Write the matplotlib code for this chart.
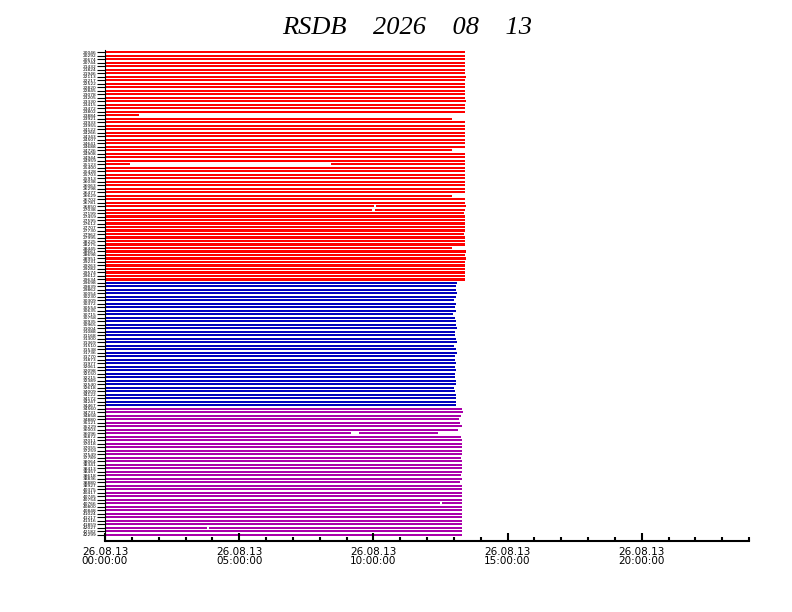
import matplotlib
matplotlib.use("Agg")
import matplotlib.pyplot as plt
import numpy as np

# data: end of reception per station (hours since 00:00 UTC)
title = "RSDB    2026    08    13"

red_end = ([13.41] * 7 + [13.45] + [13.41] * 6 + [13.45] + [13.41] * 3 + [1.27, 12.92]
           + [13.41] * 8 + [12.92] + [13.41] * 3 + [13.41] + [13.41] * 8 + [12.92]
           + [13.41] * 2 + [13.45, 13.41, 13.37] + [13.41] * 5 + [13.37] + [13.41] * 3
           + [12.92, 13.45, 13.41, 13.45] + [13.41] * 6)
red_gaps = [(32, 0.93, 8.42), (44, 10.02, 10.09), (45, 9.94, 10.06)]

blue_end = [13.11, 13.07, 13.07, 13.11, 13.07, 13.00, 13.07, 13.04, 13.07, 12.96,
            13.04, 13.07, 13.07, 13.11, 13.04, 13.04, 13.07, 13.11, 13.00, 13.07,
            13.11, 13.04, 13.04, 13.07, 13.04, 13.07, 13.04, 13.04, 13.07, 13.07,
            13.00, 13.04, 13.07, 13.07, 13.07, 13.07]
blue_gaps = []

mag_end = [13.30, 13.33, 13.26, 13.18, 13.22, 13.30, 13.15, 12.40, 13.26, 13.30,
           13.30, 13.30, 13.30, 13.30, 13.26, 13.30, 13.30, 13.30, 13.30, 13.26,
           13.30, 13.22, 13.30, 13.30, 13.30, 13.30, 13.30, 13.30, 13.30, 13.30,
           13.30, 13.30, 13.30, 13.30, 13.30, 13.30, 13.30]
mag_gaps = [(7, 9.16, 9.46), (27, 12.48, 12.55), (34, 3.80, 3.87)]

# station labels (too small to read in the original)
stations = ["20046", "20292", "20674", "20744", "21432", "21824", "21946", "22113",
            "22217", "22522", "22820", "22845", "23078", "23205", "23330", "23415",
            "23472", "23802", "23884", "23921", "23933", "23955", "24122", "24266",
            "24343", "24507", "24641", "24688", "24726", "24908", "24944", "24959",
            "25123", "25400", "25428", "25703", "25913", "26038", "26063", "26298",
            "26477", "26629", "26702", "26781", "26850", "27038", "27199", "27459",
            "27595", "27612", "27707", "27730", "27962", "27995", "28225", "28275",
            "28445", "28661", "28698", "28951", "29231", "29263", "29282", "29574",
            "29612", "29634", "29698", "29839", "29862", "30054", "30230", "30309",
            "30372", "30554", "30635", "30715", "30758", "30935", "30965", "31004",
            "31088", "31168", "31300", "31369", "31510", "31538", "31736", "31770",
            "31873", "31977", "32061", "32098", "32150", "32215", "32389", "32540",
            "32618", "34009", "34122", "34172", "34247", "34467", "34560", "34731",
            "34858", "34880", "35121", "35229", "36003", "36096", "36872", "37011",
            "37018", "37055", "37259", "37549", "37789", "38064", "38341", "38413",
            "38457", "38618", "38836", "38880", "38927", "40375", "40417", "40745",
            "40754", "40766", "40800", "40848", "41024", "41217", "41316", "41859",
            "42027", "42182", "42299"]

xtick_hours = [0, 5, 10, 15, 20]
xtick_labels = ["26.08.13\n00:00:00", "26.08.13\n05:00:00", "26.08.13\n10:00:00",
                "26.08.13\n15:00:00", "26.08.13\n20:00:00"]

groups = [(red_end, red_gaps, "#ff0000"),
          (blue_end, blue_gaps, "#0000be"),
          (mag_end, mag_gaps, "#aa00aa")]

fig = plt.figure(figsize=(7.92, 6.12), dpi=100)
ax = fig.add_axes([105 / 792, 71 / 612, 644 / 792, 491 / 612])

row = 0
for ends, gaps, col in groups:
    for i, end in enumerate(ends):
        segs = [(0.0, end)]
        for g in gaps:
            if g[0] == i:
                segs = [(0.0, g[1]), (g[2], end)]
        for s, e in segs:
            ax.barh(row, e - s, left=s, height=0.6, color=col, linewidth=0)
        row += 1

nrows = row
ax.set_xlim(0, 24)
ax.set_ylim(nrows + 0.83, -0.65)

ax.set_yticks(np.arange(nrows))
ax.set_yticklabels(stations[:nrows], fontsize=3.2)
ax.tick_params(axis="y", direction="out", length=5.5, width=0.8, pad=0.5)

ax.set_xticks(xtick_hours)
ax.set_xticklabels(xtick_labels, fontsize=7.5, linespacing=0.95)
ax.set_xticks(np.arange(0, 25, 1), minor=True)
ax.tick_params(axis="x", which="major", direction="in", length=6, width=1.5, pad=4)
ax.tick_params(axis="x", which="minor", direction="in", length=3, width=1.5)

for side in ["top", "right"]:
    ax.spines[side].set_visible(False)
ax.spines["bottom"].set_linewidth(1.5)
ax.spines["left"].set_linewidth(0.8)

fig.text(0.514, 0.955, title, ha="center", va="center", fontsize=19,
         family="Liberation Serif", style="italic")

plt.savefig("out.png", dpi=100)
